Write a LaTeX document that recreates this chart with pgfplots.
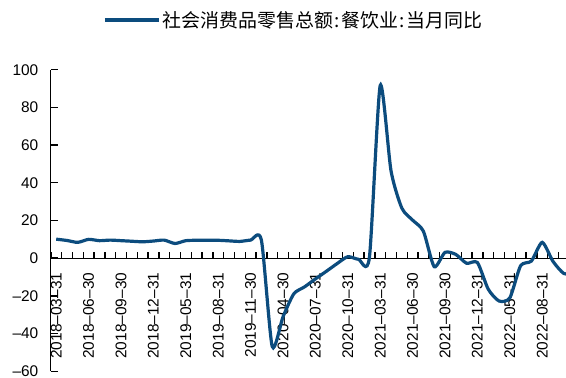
\documentclass[border=0pt]{standalone}
\usepackage{pgfplots}
\usepackage{pgfplotstable}
\pgfplotsset{compat=1.18}
\usepackage{fontspec}
\setmainfont{Liberation Sans}
\newfontfamily\cjk{Noto Sans CJK SC}
\definecolor{lineblue}{RGB}{12,76,126}

% Catering retail sales, monthly YoY (%); Jan/Feb are not reported separately
\pgfplotstableread{
idx val
0 10.1
1 9.4
2 8.4
3 10.0
4 9.3
5 9.6
6 9.3
7 9.0
8 8.7
9 9.1
10 9.6
11 7.8
12 9.3
13 9.5
14 9.5
15 9.5
16 9.2
17 8.9
18 9.6
19 9.6
20 -46.8
21 -31.1
22 -18.9
23 -15.2
24 -11.0
25 -7.0
26 -2.9
27 0.8
28 -0.6
29 0.4
30 91.6
31 46.4
32 26.6
33 20.2
34 14.3
35 -4.5
36 3.1
37 2.0
38 -2.7
39 -2.3
40 -16.4
41 -22.7
42 -21.1
43 -4.0
44 -1.5
45 8.4
46 -1.7
47 -8.1
48 -8.4
}\catering

\newcommand{\lcolon}{\hspace{1.5bp}:\hspace{1.5bp}}

\begin{document}
\begin{tikzpicture}
\useasboundingbox (0,0) rectangle (566bp,378bp);
\begin{axis}[
  at={(50.8bp,6.7bp)}, anchor=south west,
  scale only axis, width=523.8bp, height=301.6bp,
  xmin=-0.5, xmax=48, ymin=-60, ymax=100,
  clip=false,
  axis x line=middle, axis y line=left,
  axis line style={-, line width=1.2bp, black},
  major tick length=0pt,
  /pgf/number format/assume math mode=true,
  tick label style={font=\fontsize{15.5}{16}\selectfont},
  xtick={0,3,...,45},
  xticklabels={2018--03--31,2018--06--30,2018--09--30,2018--12--31,2019--05--31,2019--08--31,2019--11--30,2020--04--30,2020--07--31,2020--10--31,2021--03--31,2021--06--30,2021--09--30,2021--12--31,2022--05--31,2022--08--31},
  xticklabel style={rotate=90, anchor=east},
  xticklabel shift=11bp,
  ytick={-60,-40,...,100},
  yticklabels={--60,--40,--20,0,20,40,60,80,100},
  yticklabel shift=9bp,
  legend style={at={(axis description cs:0.0997,1.165)}, anchor=west, draw=none, fill=none,
    font=\cjk\fontsize{19}{21}\selectfont, inner sep=0pt},
  legend image code/.code={\draw[lineblue, line width=3.5bp] (0,0) -- (54bp,0);},
]
% month boundary marks on the zero line (about 6bp tall)
\pgfplotsinvokeforeach{0,...,48}{
  \draw[black, line width=1.4bp] (axis cs:{#1-0.5},0) -- (axis cs:{#1-0.5},3.2);
}
% value axis marks (about 7bp long, pointing inward)
\pgfplotsinvokeforeach{-60,-40,...,100}{
  \draw[black, line width=1.4bp] (axis cs:-0.5,#1) -- (axis cs:0.15,#1);
}
\addplot[lineblue, line width=3.2bp, smooth, tension=0.4] table[x=idx, y=val] {\catering};
\addlegendentry{社会消费品零售总额\lcolon 餐饮业\lcolon 当月同比}
\end{axis}
\end{tikzpicture}
\end{document}
